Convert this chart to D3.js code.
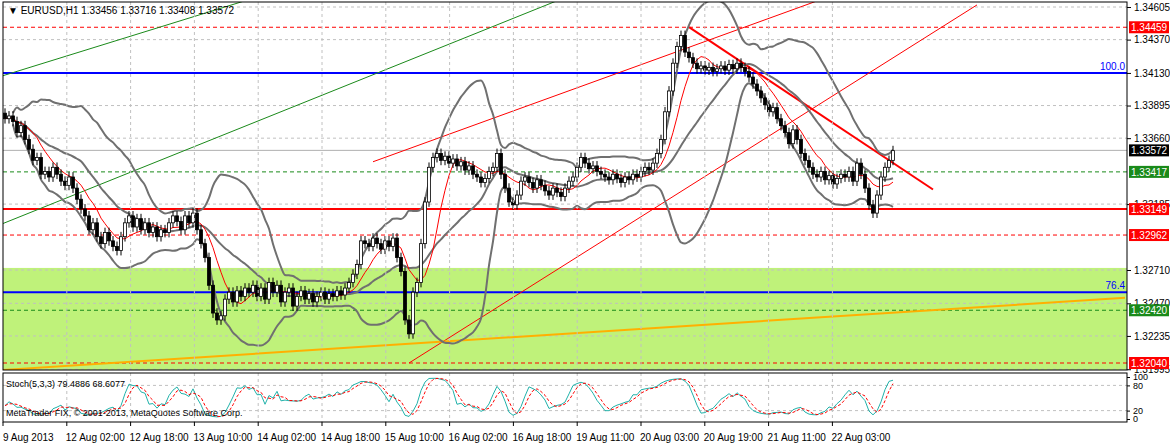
<!DOCTYPE html><html><head><meta charset="utf-8">
<script src="https://cdn.jsdelivr.net/npm/d3@7"></script>
<style>body{margin:0;background:#fff}svg{display:block;font-family:"Liberation Sans",Arial,sans-serif}</style></head><body>
<svg id="c" width="1170" height="447"></svg>
<script>
const closes=[1.3380,1.3382,1.3378,1.3370,1.3375,1.3365,1.3358,1.3350,1.3352,1.3340,
1.3342,1.3338,1.3345,1.3340,1.3335,1.3332,1.3338,1.3330,1.3322,1.3315,
1.3310,1.3300,1.3305,1.3295,1.3290,1.3298,1.3292,1.3288,1.3285,1.3295,
1.3305,1.3310,1.3302,1.3308,1.3300,1.3305,1.3298,1.3302,1.3295,1.3300,
1.3298,1.3305,1.3310,1.3306,1.3300,1.3310,1.3305,1.3312,1.3300,1.3290,
1.3280,1.3260,1.3240,1.3235,1.3238,1.3250,1.3255,1.3248,1.3256,1.3252,
1.3258,1.3255,1.3260,1.3252,1.3258,1.3250,1.3262,1.3255,1.3260,1.3248,
1.3255,1.3258,1.3245,1.3252,1.3256,1.3250,1.3254,1.3248,1.3252,1.3255,
1.3250,1.3254,1.3252,1.3256,1.3253,1.3258,1.3262,1.3268,1.3275,1.3292,
1.3290,1.3288,1.3294,1.3290,1.3286,1.3292,1.3288,1.3294,1.3280,1.3270,
1.3235,1.3225,1.3255,1.3262,1.3290,1.3320,1.3345,1.3352,1.3355,1.3350,
1.3353,1.3348,1.3351,1.3346,1.3349,1.3343,1.3346,1.3340,1.3338,1.3334,
1.3337,1.3342,1.3345,1.3355,1.3340,1.3330,1.3320,1.3318,1.3325,1.3335,
1.3338,1.3334,1.3330,1.3336,1.3332,1.3328,1.3325,1.3330,1.3327,1.3324,
1.3330,1.3335,1.3338,1.3345,1.3352,1.3348,1.3344,1.3346,1.3342,1.3340,
1.3338,1.3336,1.3340,1.3337,1.3334,1.3338,1.3336,1.3340,1.3338,1.3342,
1.3345,1.3343,1.3348,1.3355,1.3365,1.3385,1.3400,1.3420,1.3432,1.3440,
1.3428,1.3424,1.3420,1.3416,1.3418,1.3415,1.3417,1.3414,1.3416,1.3418,
1.3415,1.3419,1.3416,1.3420,1.3417,1.3414,1.3410,1.3405,1.3400,1.3395,
1.3390,1.3385,1.3388,1.3380,1.3375,1.3370,1.3362,1.3372,1.3365,1.3355,
1.3350,1.3345,1.3340,1.3338,1.3342,1.3336,1.3339,1.3333,1.3337,1.3340,
1.3338,1.3342,1.3335,1.3348,1.3340,1.3330,1.3318,1.3312,1.3325,1.3338,
1.3345,1.3350,1.3357];
const priceTicks=[1.34605,1.34370,1.34130,1.33895,1.33660,1.33185,1.32710,1.32470,1.32235,1.31995];
const timeLabels=["9 Aug 2013","12 Aug 02:00","12 Aug 18:00","13 Aug 10:00","14 Aug 02:00","14 Aug 18:00","15 Aug 10:00","16 Aug 02:00","16 Aug 18:00","19 Aug 11:00","20 Aug 03:00","20 Aug 19:00","21 Aug 11:00","22 Aug 03:00"];
const levelPrices=[1.34459,1.33572,1.33417,1.33149,1.32962,1.32420,1.32040];
const levelColors=["#f00","#000","#1a8a1a","#f00","#f00","#1a8a1a","#f00"];
const fibPrices=[1.34130,1.32550];const fibLabels=["100.0","76.4"];

const svg=d3.select("#c");
const L=3,R=1127,T=2,B=370,ST=373,SB=422;
const y=d3.scaleLinear().domain([1.34605,1.32040]).range([7,363]);
const x=d3.scaleLinear().domain([0,1]).range([5,9]);
const ys=d3.scaleLinear().domain([0,100]).range([419,377]);
svg.append("defs").append("clipPath").attr("id","cp").append("rect").attr("x",L).attr("y",T).attr("width",R-L).attr("height",B-T);
const g=svg.append("g").attr("clip-path","url(#cp)");
g.append("rect").attr("x",L).attr("width",R-L).attr("y",y(1.32725)).attr("height",B-y(1.32725)).attr("fill","#bff27a");
priceTicks.forEach(p=>g.append("line").attr("x1",L).attr("x2",R).attr("y1",y(p)).attr("y2",y(p)).attr("stroke","#c0c0c0").attr("stroke-dasharray","3,3"));
const gx=timeLabels.map((t,i)=>3+i*63.8);
gx.slice(1).forEach(v=>{[[T,B],[ST,SB]].forEach(([a,b])=>svg.append("line").attr("x1",v).attr("x2",v).attr("y1",a).attr("y2",b).attr("stroke","#c0c0c0").attr("stroke-dasharray","3,3"));});
const lv=(p,c,w,d)=>g.append("line").attr("x1",L).attr("x2",R).attr("y1",y(p)).attr("y2",y(p)).attr("stroke",c).attr("stroke-width",w).attr("stroke-dasharray",d);
lv(1.34459,"#f00",1,"4,3");lv(1.34130,"#00f",2,null);lv(1.33572,"#b0b0b0",1,null);lv(1.33417,"#1a8a1a",1,"4,3");
lv(1.33149,"#f00",2,null);lv(1.32962,"#f00",1,"4,3");lv(1.32550,"#00f",2,null);lv(1.32420,"#1a8a1a",1,"4,3");lv(1.32040,"#f00",1,"4,3");
fibPrices.forEach((p,i)=>g.append("text").attr("x",R-2).attr("y",y(p)-3).attr("text-anchor","end").attr("font-size",10).attr("fill","#00f").text(fibLabels[i]));
const tl=(i1,p1,i2,p2,c,w)=>g.append("line").attr("x1",x(i1)).attr("y1",y(p1)).attr("x2",x(i2)).attr("y2",y(p2)).attr("stroke",c).attr("stroke-width",w);
tl(-0.5,1.34110,60,1.34650,"#1a8a1a",1);tl(-0.5,1.33045,138,1.34650,"#1a8a1a",1);
tl(92,1.33490,206,1.34680,"#f00",1);tl(101,1.32040,243,1.34620,"#f00",1);
tl(-0.5,1.31990,280,1.32510,"#ffb000",2);
tl(171,1.34460,232,1.33290,"#f00",2);
const n=closes.length,opens=closes.map((c,i)=>i?closes[i-1]:c+0.0004);
const highs=closes.map((c,i)=>Math.max(c,opens[i])+0.00035),lows=closes.map((c,i)=>Math.min(c,opens[i])-0.00035);
const bb=[];for(let i=0;i<n;i++){const s=closes.slice(Math.max(0,i-19),i+1);const m=d3.mean(s),sd=d3.deviation(s)||0;bb.push({i,m,u:m+2*sd,l:m-2*sd});}
const ma=closes.map((c,i)=>({i,v:d3.mean(closes.slice(Math.max(0,i-7),i+1))}));
["u","m","l"].forEach(k=>g.append("path").datum(bb.slice(2)).attr("fill","none").attr("stroke","#707070").attr("stroke-width",2).attr("d",d3.line().x(d=>x(d.i)).y(d=>y(d[k])).curve(d3.curveMonotoneX)));
g.append("path").datum(ma).attr("fill","none").attr("stroke","#f00").attr("stroke-width",1).attr("d",d3.line().x(d=>x(d.i)).y(d=>y(d.v)));
const cg=g.append("g");
closes.forEach((c,i)=>{const o=opens[i];cg.append("line").attr("x1",x(i)).attr("x2",x(i)).attr("y1",y(highs[i])).attr("y2",y(lows[i])).attr("stroke","#000");
cg.append("rect").attr("x",x(i)-1.5).attr("width",3).attr("y",y(Math.max(o,c))).attr("height",Math.max(1,y(Math.min(o,c))-y(Math.max(o,c)))).attr("fill",c>=o?"#fff":"#000").attr("stroke","#000").attr("stroke-width",0.8);});
const K=[];for(let i=0;i<n;i++){let num=0,den=0;for(let j=Math.max(0,i-2);j<=i;j++){const hh=d3.max(highs.slice(Math.max(0,j-4),j+1)),ll=d3.min(lows.slice(Math.max(0,j-4),j+1));num+=closes[j]-ll;den+=hh-ll;}K.push(den?100*num/den:50);}
const D=K.map((v,i)=>d3.mean(K.slice(Math.max(0,i-2),i+1)));
[20,80].forEach(v=>svg.append("line").attr("x1",L).attr("x2",R).attr("y1",ys(v)).attr("y2",ys(v)).attr("stroke","#c0c0c0").attr("stroke-dasharray","3,3"));
svg.append("path").datum(K).attr("fill","none").attr("stroke","#20b2aa").attr("d",d3.line().x((d,i)=>x(i)).y(d=>ys(d)));
svg.append("path").datum(D).attr("fill","none").attr("stroke","#f00").attr("stroke-dasharray","3,2").attr("d",d3.line().x((d,i)=>x(i)).y(d=>ys(d)));
svg.append("rect").attr("x",L).attr("y",T).attr("width",R-L).attr("height",B-T).attr("fill","none").attr("stroke","#000");
svg.append("rect").attr("x",L).attr("y",ST).attr("width",R-L).attr("height",SB-ST).attr("fill","none").attr("stroke","#000");
const ax=svg.append("g").attr("transform",`translate(${R},0)`).call(d3.axisRight(y).tickValues(priceTicks).tickFormat(d3.format(".5f")).tickSize(4));
ax.select(".domain").remove();ax.selectAll("text").attr("font-size",10).attr("fill","#000");
levelPrices.forEach((p,i)=>{const yy=y(p);svg.append("rect").attr("x",R+2).attr("y",yy-6).attr("width",40).attr("height",12).attr("fill",levelColors[i]);
svg.append("text").attr("x",R+4).attr("y",yy+4).attr("font-size",10).attr("fill","#fff").text(p.toFixed(5));});
const sa=svg.append("g").attr("transform",`translate(${R},0)`).call(d3.axisRight(ys).tickValues([100,80,20,0]).tickSize(3));
sa.select(".domain").remove();sa.selectAll("text").attr("font-size",9);
timeLabels.forEach((t,i)=>{svg.append("line").attr("x1",gx[i]).attr("x2",gx[i]).attr("y1",SB).attr("y2",SB+4).attr("stroke","#000");
svg.append("text").attr("x",gx[i]+(i?-1:0)).attr("y",441).attr("font-size",10).text(t);});
svg.append("text").attr("x",8).attr("y",14).attr("font-size",10).text("▼ EURUSD,H1  1.33456 1.33716 1.33408 1.33572");
svg.append("text").attr("x",6).attr("y",387).attr("font-size",9).text("Stoch(5,3,3) 79.4886 68.6077");
svg.append("text").attr("x",6).attr("y",416).attr("font-size",9).text("MetaTrader FIX, © 2001-2013, MetaQuotes Software Corp.");
</script></body></html>
